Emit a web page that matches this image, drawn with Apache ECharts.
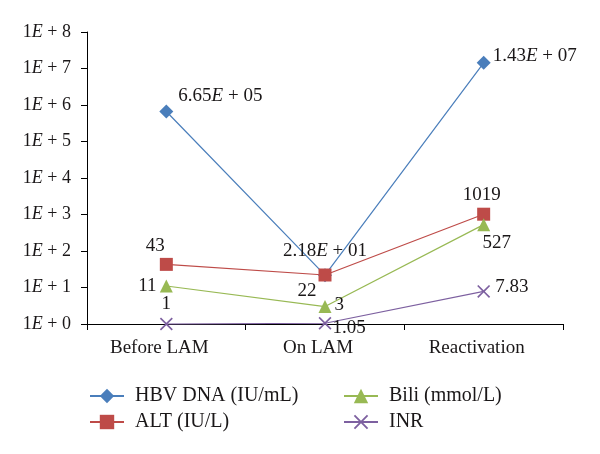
<!DOCTYPE html>
<html><head><meta charset="utf-8">
<script src="https://cdn.jsdelivr.net/npm/echarts@6/dist/echarts.min.js"></script>
<style>html,body{margin:0;padding:0;background:#fff;}#c{width:600px;height:454px;}</style>
</head><body><div id="c"></div>
<script>
const categories = ['Before LAM', 'On LAM', 'Reactivation'];
const hbvDna = [665000, 21.8, 14300000];
const alt = [43, 22, 1019];
const bili = [11, 3, 527];
const inr = [1, 1.05, 7.83];
const seriesNames = ['HBV DNA (IU/mL)', 'ALT (IU/L)', 'Bili (mmol/L)', 'INR'];
const yTickExponents = [0, 1, 2, 3, 4, 5, 6, 7, 8];

// label placement (layout only)
const labelLayout = {
  hbv: [['right', [0, -15]], ['inside', [0, -24]], ['right', [-3, -7]]],
  alt: [['inside', [-11, -18]], ['inside', [-18, 16]], ['inside', [-2, -19]]],
  bili: [['inside', [-19, 0]], ['right', [-2, -2]], ['inside', [13, 18]]],
  inr: [['inside', [0, -20]], ['right', [-4, 5]], ['right', [0, -4]]]
};

const FONT = 'Liberation Serif';
const TXT = '#1a1718';
const richAxis = { i: { fontStyle: 'italic', fontFamily: FONT, fontSize: 18, color: TXT } };
const richLbl = { i: { fontStyle: 'italic', fontFamily: FONT, fontSize: 19, color: TXT } };

function sci(v) {
  const s = v.toExponential(2).split('e');
  const e = parseInt(s[1], 10);
  return s[0] + '{i|E} + ' + String(Math.abs(e)).padStart(2, '0');
}

function buildData(values, layout) {
  return values.map((v, i) => ({
    value: v,
    label: { position: layout[i][0], offset: layout[i][1], distance: 5 }
  }));
}

const xPath = 'path://M0,9L9,0L50,41L91,0L100,9L59,50L100,91L91,100L50,59L9,100L0,91L41,50Z';

function mkSeries(name, values, layout, color, symbol, size, fmt) {
  return {
    name: name, type: 'line', data: buildData(values, layout),
    symbol: symbol, symbolSize: size, clip: false,
    lineStyle: { color: color, width: 1.2 },
    itemStyle: { color: color },
    label: {
      show: true, fontFamily: FONT, fontSize: 19, color: TXT, rich: richLbl,
      formatter: fmt
    }
  };
}

const chart = echarts.init(document.getElementById('c'), null, { renderer: 'canvas' });
chart.setOption({
  animation: false,
  backgroundColor: '#fff',
  grid: { left: 87, right: 37, top: 32, bottom: 130, containLabel: false },
  xAxis: {
    type: 'category', data: categories, boundaryGap: true,
    axisLine: { lineStyle: { color: '#000', width: 1 } },
    axisTick: { show: true, length: 6, inside: false, lineStyle: { color: '#000' } },
    axisLabel: { fontFamily: FONT, fontSize: 19, color: TXT, margin: 15, padding: [0, 14, 0, 0] }
  },
  yAxis: {
    type: 'log', logBase: 10, min: 1, max: 1e8, interval: 1,
    axisLine: { show: true, lineStyle: { color: '#000', width: 1 } },
    axisTick: { show: true, length: 6, lineStyle: { color: '#000' } },
    splitLine: { show: false },
    axisLabel: {
      fontFamily: FONT, fontSize: 18, color: TXT, margin: 16, rich: richAxis,
      formatter: v => {
        const e = Math.round(Math.log10(v));
        return yTickExponents.indexOf(e) >= 0 ? '1{i|E} + ' + e : '';
      }
    }
  },
  legend: [
    {
      data: [seriesNames[0], seriesNames[1]], orient: 'vertical', left: 84, top: 381,
      itemWidth: 34, itemHeight: 18, itemGap: 6,
      textStyle: { fontFamily: FONT, fontSize: 20, color: TXT, padding: [0, 0, 0, 6] }
    },
    {
      data: [seriesNames[2], seriesNames[3]], orient: 'vertical', left: 338, top: 381,
      itemWidth: 34, itemHeight: 18, itemGap: 6,
      textStyle: { fontFamily: FONT, fontSize: 20, color: TXT, padding: [0, 0, 0, 6] }
    }
  ],
  series: [
    mkSeries(seriesNames[0], hbvDna, labelLayout.hbv, '#4a7ebb', 'diamond', 14, p => sci(p.value)),
    mkSeries(seriesNames[1], alt, labelLayout.alt, '#be4b48', 'rect', 13, p => String(p.value)),
    mkSeries(seriesNames[2], bili, labelLayout.bili, '#98b954', 'triangle', 13, p => String(p.value)),
    mkSeries(seriesNames[3], inr, labelLayout.inr, '#7d60a0', xPath, 13, p => String(p.value))
  ]
});
</script></body></html>
